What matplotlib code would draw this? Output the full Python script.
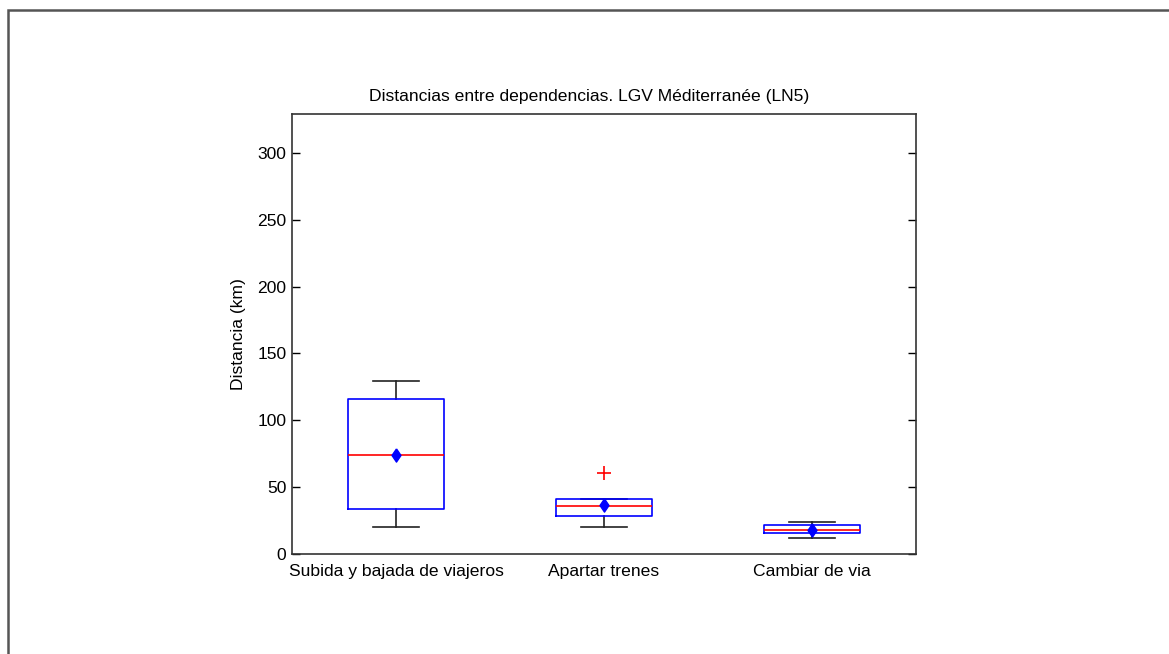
import matplotlib
matplotlib.use("Agg")
import matplotlib.pyplot as plt
from matplotlib.patches import Rectangle

plt.rcParams['font.family'] = ['Liberation Sans', 'DejaVu Sans']

categories = ["Subida y bajada de viajeros", "Apartar trenes", "Cambiar de via"]
medians = [74.0, 35.7, 18.0]
q1 = [33.9, 28.7, 15.9]
q3 = [115.7, 40.9, 21.5]
whisker_low = [20.4, 20.2, 12.2]
whisker_high = [129.4, 40.9, 24.2]
means = [74.0, 36.4, 18.3]
outliers = [[], [60.6], []]
y_ticks = [0, 50, 100, 150, 200, 250, 300]

W, H = 1169, 654
fig = plt.figure(figsize=(W / 100, H / 100), dpi=100)
ax = fig.add_axes([292 / W, 1 - 554 / H, (916 - 292) / W, (554 - 114) / H])

stats = []
for i, c in enumerate(categories):
    stats.append(dict(label=c, med=medians[i], q1=q1[i], q3=q3[i],
                      whislo=whisker_low[i], whishi=whisker_high[i],
                      mean=means[i], fliers=outliers[i]))

diamond = [(0, 1), (0.68, 0), (0, -1), (-0.68, 0), (0, 1)]
positions = list(range(1, len(categories) + 1))
ax.bxp(stats, positions=positions, widths=0.46, showmeans=True,
       boxprops=dict(color='#0000ff', linewidth=1.2, zorder=3),
       medianprops=dict(color='#ff0000', linewidth=1.2, zorder=3.5),
       whiskerprops=dict(color='#222222', linewidth=1.2, zorder=2),
       capprops=dict(color='#222222', linewidth=1.2, zorder=2),
       capwidths=0.22,
       meanprops=dict(marker=diamond, markerfacecolor='#0000ff', markeredgecolor='#0000ff',
                      markersize=9.5, markeredgewidth=1, zorder=4),
       flierprops=dict(marker='+', markeredgecolor='#ff0000', markersize=10,
                       markeredgewidth=1.2))

fs = 12.6
ax.set_xlim(0.5, 3.5)
ax.set_ylim(0, 329)
ax.set_yticks(y_ticks)
ax.set_xticks(positions)
ax.set_xticklabels(categories, fontsize=fs)
ax.tick_params(axis='y', direction='in', length=6, right=True, labelsize=fs, width=1, pad=4)
ax.tick_params(axis='x', length=0, labelsize=fs, pad=7)
for s in ax.spines.values():
    s.set_color('#333333')
    s.set_linewidth(1.2)

ax.set_title("Distancias entre dependencias. LGV Méditerranée (LN5)", fontsize=fs, pad=9, x=0.477)
ax.set_ylabel("Distancia (km)", fontsize=fs, labelpad=8)

fig.patches.append(Rectangle((8 / W, -0.1), 1.2, 1 - 10 / H + 0.1, transform=fig.transFigure,
                             fill=False, edgecolor='#555555', linewidth=1.8))

fig.savefig("out.png", dpi=100)
